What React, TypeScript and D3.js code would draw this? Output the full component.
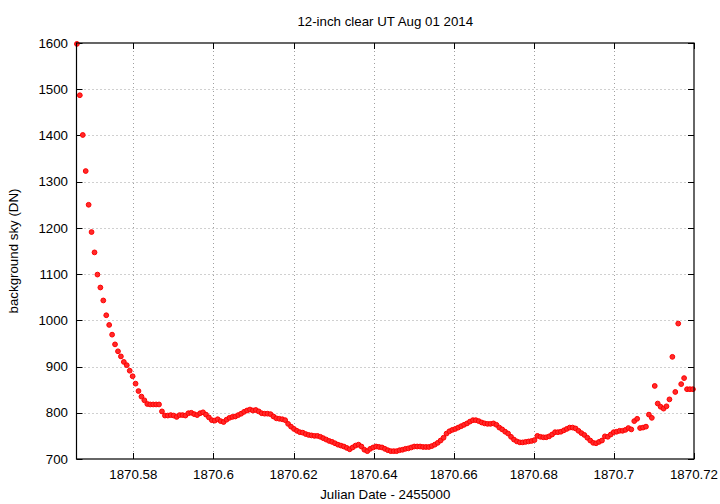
import React from "react";
import * as d3 from "d3";

const title = "12-inch clear UT Aug 01 2014";
const xLabel = "Julian Date - 2455000";
const yLabel = "background sky (DN)";

const xTicks = [1870.58, 1870.6, 1870.62, 1870.64, 1870.66, 1870.68, 1870.7, 1870.72];
const yTicks = [700, 800, 900, 1000, 1100, 1200, 1300, 1400, 1500, 1600];

const jd = [
  1870.5659, 1870.56663, 1870.56737, 1870.5681, 1870.56883, 1870.56956, 1870.5703, 1870.57103, 1870.57176, 1870.57249,
  1870.57323, 1870.57396, 1870.57469, 1870.57542, 1870.57616, 1870.57689, 1870.57762, 1870.57835, 1870.57909, 1870.57982,
  1870.58055, 1870.58128, 1870.58202, 1870.58275, 1870.58348, 1870.58421, 1870.58495, 1870.58568, 1870.58641, 1870.58714,
  1870.58788, 1870.58861, 1870.58934, 1870.59007, 1870.59081, 1870.59154, 1870.59227, 1870.593, 1870.59374, 1870.59447,
  1870.5952, 1870.59593, 1870.59667, 1870.5974, 1870.59813, 1870.59886, 1870.5996, 1870.60033, 1870.60106, 1870.60179,
  1870.60253, 1870.60326, 1870.60399, 1870.60472, 1870.60546, 1870.60619, 1870.60692, 1870.60765, 1870.60839, 1870.60912,
  1870.60985, 1870.61058, 1870.61132, 1870.61205, 1870.61278, 1870.61351, 1870.61425, 1870.61498, 1870.61571, 1870.61644,
  1870.61718, 1870.61791, 1870.61864, 1870.61937, 1870.62011, 1870.62084, 1870.62157, 1870.6223, 1870.62304, 1870.62377,
  1870.6245, 1870.62523, 1870.62597, 1870.6267, 1870.62743, 1870.62816, 1870.6289, 1870.62963, 1870.63036, 1870.63109,
  1870.63183, 1870.63256, 1870.63329, 1870.63402, 1870.63476, 1870.63549, 1870.63622, 1870.63695, 1870.63769, 1870.63842,
  1870.63915, 1870.63988, 1870.64062, 1870.64135, 1870.64208, 1870.64281, 1870.64355, 1870.64428, 1870.64501, 1870.64574,
  1870.64648, 1870.64721, 1870.64794, 1870.64867, 1870.64941, 1870.65014, 1870.65087, 1870.6516, 1870.65234, 1870.65307,
  1870.6538, 1870.65453, 1870.65527, 1870.656, 1870.65673, 1870.65746, 1870.6582, 1870.65893, 1870.65966, 1870.66039,
  1870.66113, 1870.66186, 1870.66259, 1870.66332, 1870.66406, 1870.66479, 1870.66552, 1870.66625, 1870.66699, 1870.66772,
  1870.66845, 1870.66918, 1870.66992, 1870.67065, 1870.67138, 1870.67211, 1870.67285, 1870.67358, 1870.67431, 1870.67504,
  1870.67578, 1870.67651, 1870.67724, 1870.67797, 1870.67871, 1870.67944, 1870.68017, 1870.6809, 1870.68164, 1870.68237,
  1870.6831, 1870.68383, 1870.68457, 1870.6853, 1870.68603, 1870.68676, 1870.6875, 1870.68823, 1870.68896, 1870.68969,
  1870.69043, 1870.69116, 1870.69189, 1870.69262, 1870.69336, 1870.69409, 1870.69482, 1870.69555, 1870.69629, 1870.69702,
  1870.69775, 1870.69848, 1870.69922, 1870.69995, 1870.70068, 1870.70141, 1870.70215, 1870.70288, 1870.70361, 1870.70434,
  1870.70508, 1870.70581, 1870.70654, 1870.70727, 1870.70801, 1870.70874, 1870.70947, 1870.7102, 1870.71094, 1870.71167,
  1870.7124, 1870.71313, 1870.71387, 1870.7146, 1870.71533, 1870.71606, 1870.7168, 1870.71753, 1870.71826, 1870.71899,
  1870.71973,
];

const sky = [
  1598, 1487, 1401, 1323, 1250, 1191, 1147, 1099, 1071, 1043,
  1011, 990, 969, 948, 933, 922, 910, 903, 891, 879,
  863, 847, 835, 827, 819, 818, 818, 818, 818, 803,
  794, 794, 795, 794, 791, 795, 795, 794, 799, 800,
  797, 795, 799, 801, 796, 790, 784, 783, 786, 782,
  780, 785, 789, 791, 792, 795, 798, 802, 805, 807,
  805, 806, 803, 799, 798, 798, 797, 792, 788, 787,
  786, 784, 776, 770, 765, 761, 758, 757, 754, 752,
  751, 750, 750, 748, 745, 742, 739, 737, 734, 731,
  729, 727, 724, 721, 725, 729, 731, 727, 720, 717,
  722, 725, 727, 726, 725, 722, 719, 717, 717, 717,
  719, 720, 722, 723, 725, 727, 727, 727, 726, 726,
  726, 728, 731, 735, 740, 746, 755, 760, 763, 765,
  768, 771, 774, 777, 781, 784, 784, 782, 779, 777,
  776, 776, 777, 774, 768, 764, 759, 755, 748, 742,
  738, 736, 736, 737, 738, 739, 741, 750, 748, 747,
  747, 749, 753, 758, 758, 759, 762, 765, 768, 768,
  766, 761, 756, 752, 746, 740, 735, 734, 737, 740,
  749, 748, 753, 758, 759, 761, 761, 763, 767, 764,
  782, 787, 767, 768, 770, 796, 789, 858, 820, 813,
  809, 814, 829, 921, 845, 993, 862, 875, 851, 851,
  851,
];

const W = 720;
const H = 504;
const M = { left: 76.5, right: 694, top: 43, bottom: 459 };
const FONT = "'Liberation Sans', Arial, Helvetica, sans-serif";
const FS = 13.3;

export default function App() {
  const x = d3.scaleLinear().domain([1870.5658, 1870.72]).range([M.left, M.right]);
  const y = d3.scaleLinear().domain([700, 1600]).range([M.bottom, M.top]);
  const fmtX = (v: number) => String(+v.toFixed(2));
  const pts = jd.map((t, i) => [t, sky[i]] as [number, number]);

  return (
    <svg
      width={W}
      height={H}
      style={{ position: "absolute", left: 0, top: 0, background: "#fff" }}
      fontFamily={FONT}
    >
      <rect x={0} y={0} width={W} height={H} fill="#fff" />
      <g stroke="#a0a0a0" strokeWidth={1} strokeDasharray="1,3">
        {xTicks.filter((t) => t < 1870.719).map((t) => (
          <line key={"gx" + t} x1={Math.round(x(t)) + 0.5} x2={Math.round(x(t)) + 0.5} y1={M.top} y2={M.bottom} />
        ))}
        {yTicks.filter((t) => t > 700 && t < 1600).map((t) => (
          <line key={"gy" + t} x1={M.left} x2={M.right} y1={Math.round(y(t)) + 0.5} y2={Math.round(y(t)) + 0.5} />
        ))}
      </g>
      <g stroke="#000" strokeWidth={1}>
        {xTicks.map((t) => {
          const px = Math.round(x(t)) + 0.5;
          return (
            <g key={"tx" + t}>
              <line x1={px} x2={px} y1={M.bottom} y2={M.bottom - 6} />
              <line x1={px} x2={px} y1={M.top} y2={M.top + 6} />
            </g>
          );
        })}
        {yTicks.map((t) => {
          const py = Math.round(y(t)) + 0.5;
          return (
            <g key={"ty" + t}>
              <line x1={M.left} x2={M.left + 6} y1={py} y2={py} />
              <line x1={M.right} x2={M.right - 6} y1={py} y2={py} />
            </g>
          );
        })}
      </g>
      <g>
        {pts.map((p, i) => (
          <circle
            key={i}
            cx={x(p[0])}
            cy={y(p[1])}
            r={2.4}
            fill="#ff2a2a"
            stroke="#ff0000"
            strokeWidth={1}
          />
        ))}
      </g>
      <rect
        x={M.left}
        y={M.top}
        width={M.right - M.left}
        height={M.bottom - M.top}
        fill="none"
        stroke="#000"
        strokeWidth={1.2}
      />
      <g fontSize={FS} fill="#000">
        {yTicks.map((t) => (
          <text key={"ly" + t} x={68} y={y(t)} dy="0.35em" textAnchor="end">
            {t}
          </text>
        ))}
        {xTicks.map((t) => (
          <text key={"lx" + t} x={x(t)} y={474} dy="0.35em" textAnchor="middle">
            {fmtX(t)}
          </text>
        ))}
      </g>
      <text x={(M.left + M.right) / 2} y={21} dy="0.35em" textAnchor="middle" fontSize={FS}>
        {title}
      </text>
      <text x={(M.left + M.right) / 2} y={494} dy="0.35em" textAnchor="middle" fontSize={FS}>
        {xLabel}
      </text>
      <text
        transform={`translate(13, ${(M.top + M.bottom) / 2}) rotate(-90)`}
        dy="0.35em"
        textAnchor="middle"
        fontSize={FS}
      >
        {yLabel}
      </text>
    </svg>
  );
}
